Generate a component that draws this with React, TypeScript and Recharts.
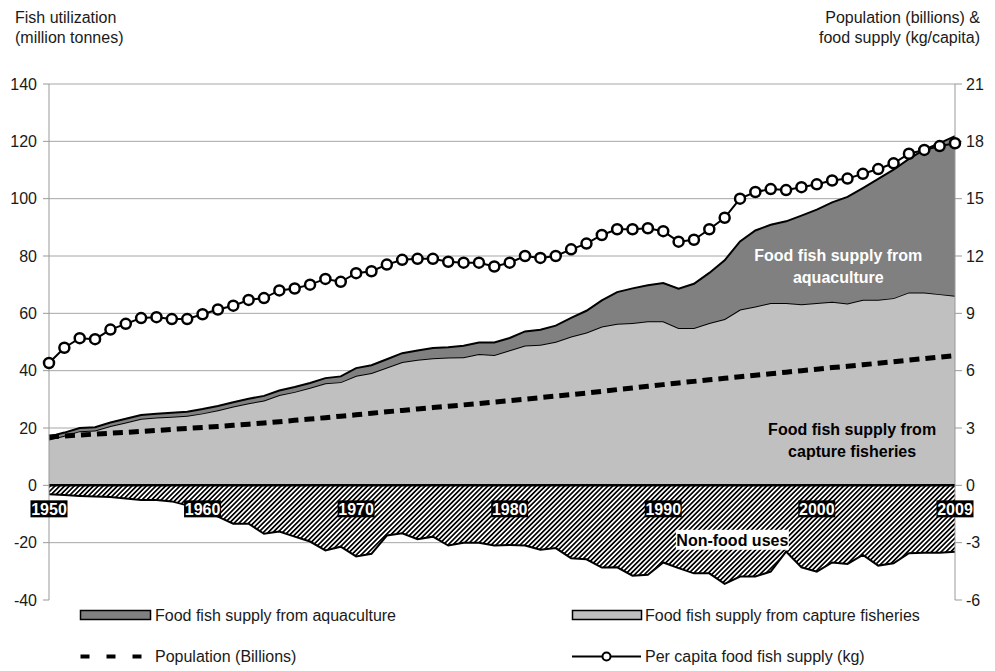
import React from 'react';
import {
  ComposedChart,
  Area,
  Line,
  XAxis,
  YAxis,
  CartesianGrid,
  ReferenceLine,
  ReferenceDot,
  Legend,
} from 'recharts';

const FONT = '"Liberation Sans", Arial, Helvetica, sans-serif';

const years = [
  1950, 1951, 1952, 1953, 1954, 1955, 1956, 1957, 1958, 1959,
  1960, 1961, 1962, 1963, 1964, 1965, 1966, 1967, 1968, 1969,
  1970, 1971, 1972, 1973, 1974, 1975, 1976, 1977, 1978, 1979,
  1980, 1981, 1982, 1983, 1984, 1985, 1986, 1987, 1988, 1989,
  1990, 1991, 1992, 1993, 1994, 1995, 1996, 1997, 1998, 1999,
  2000, 2001, 2002, 2003, 2004, 2005, 2006, 2007, 2008, 2009,
];

// Food fish supply from capture fisheries (million tonnes)
const capture = [
  16.0, 17.3, 18.9, 19.1, 20.7, 21.9, 23.2, 23.7, 23.9, 24.3,
  25.1, 26.2, 27.5, 28.6, 29.6, 31.5, 32.6, 34.0, 35.6, 36.0,
  38.2, 39.2, 41.1, 43.0, 43.8, 44.3, 44.6, 44.7, 45.8, 45.5,
  47.1, 48.8, 49.0, 50.1, 51.9, 53.3, 55.4, 56.4, 56.6, 57.2,
  57.2, 54.9, 54.9, 56.6, 58.0, 61.3, 62.4, 63.6, 63.6, 63.2,
  63.6, 64.0, 63.4, 64.7, 64.7, 65.3, 67.3, 67.3, 66.7, 66.1,
];

// Food fish supply from aquaculture (million tonnes)
const aquaculture = [
  1.0, 1.1, 1.1, 1.2, 1.2, 1.3, 1.3, 1.3, 1.4, 1.4,
  1.5, 1.5, 1.5, 1.6, 1.6, 1.6, 1.7, 1.7, 1.8, 2.0,
  2.7, 2.7, 2.9, 3.1, 3.2, 3.6, 3.6, 4.0, 4.0, 4.3,
  4.3, 4.9, 5.3, 5.6, 6.5, 7.6, 9.1, 11.0, 12.1, 12.6,
  13.4, 13.7, 15.4, 17.5, 20.5, 23.8, 26.5, 27.3, 28.5, 30.9,
  32.6, 34.7, 37.2, 39.0, 42.2, 44.8, 46.6, 49.8, 52.7, 55.7,
];

// Non-food uses (million tonnes, shown as negative)
const nonFood = [
  -3.1, -3.4, -3.7, -3.9, -4.1, -4.6, -5.1, -5.1, -5.6, -7.0,
  -9.1, -10.9, -13.4, -13.4, -16.9, -16.1, -17.9, -19.6, -22.7, -21.4,
  -24.8, -23.9, -17.5, -16.7, -18.8, -17.9, -21.0, -20.0, -20.0, -21.0,
  -20.8, -21.0, -22.5, -21.9, -25.4, -25.8, -28.7, -28.6, -31.5, -31.2,
  -26.9, -28.9, -30.7, -30.7, -34.4, -31.8, -31.8, -30.1, -23.1, -28.6,
  -30.1, -26.9, -27.4, -24.3, -28.0, -27.2, -23.7, -23.5, -23.5, -23.2,
];

// Population (billions)
const population = [
  2.53, 2.58, 2.63, 2.68, 2.73, 2.77, 2.82, 2.87, 2.93, 2.98,
  3.03, 3.08, 3.14, 3.20, 3.26, 3.33, 3.40, 3.47, 3.54, 3.62,
  3.69, 3.77, 3.85, 3.92, 4.00, 4.07, 4.14, 4.21, 4.28, 4.36,
  4.43, 4.51, 4.59, 4.67, 4.75, 4.83, 4.92, 5.01, 5.09, 5.18,
  5.27, 5.36, 5.44, 5.52, 5.60, 5.68, 5.76, 5.84, 5.92, 6.00,
  6.08, 6.16, 6.23, 6.31, 6.39, 6.47, 6.55, 6.63, 6.71, 6.79,
];

// Per capita food fish supply (kg)
const perCapita = [
  6.4, 7.2, 7.7, 7.65, 8.15, 8.45, 8.75, 8.8, 8.7, 8.7,
  8.95, 9.2, 9.4, 9.7, 9.8, 10.2, 10.3, 10.5, 10.8, 10.65,
  11.1, 11.2, 11.55, 11.8, 11.85, 11.85, 11.7, 11.65, 11.65, 11.45,
  11.65, 12.0, 11.9, 12.0, 12.35, 12.65, 13.1, 13.4, 13.4, 13.45,
  13.3, 12.75, 12.85, 13.4, 14.0, 15.0, 15.35, 15.5, 15.45, 15.6,
  15.75, 15.95, 16.05, 16.3, 16.55, 16.85, 17.35, 17.55, 17.75, 17.9,
];

const leftTicks = [-40, -20, 0, 20, 40, 60, 80, 100, 120, 140];
const rightTicks = [-6, -3, 0, 3, 6, 9, 12, 15, 18, 21];
const gridValues = [-20, 0, 20, 40, 60, 80, 100, 120, 140];
const yearTags = [1950, 1960, 1970, 1980, 1990, 2000, 2009];

const data = years.map((year, i) => ({
  year,
  capture: capture[i],
  aquaculture: aquaculture[i],
  nonFood: nonFood[i],
  population: population[i],
  perCapita: perCapita[i],
}));

const YearTag = (props: any) => {
  const { cx, cy, text } = props;
  if (cx == null || cy == null) return null;
  return (
    <g>
      <rect x={cx - 18.5} y={cy - 8.5} width={37} height={17} fill="#000" />
      <text
        x={cx}
        y={cy + 6}
        textAnchor="middle"
        fill="#fff"
        fontWeight="bold"
        fontSize={16}
        fontFamily={FONT}
      >
        {text}
      </text>
    </g>
  );
};

const NonFoodTag = (props: any) => {
  const { cx, cy } = props;
  if (cx == null || cy == null) return null;
  return (
    <g>
      <rect x={cx - 56.5} y={cy - 10} width={113} height={20} fill="#fff" />
      <text
        x={cx}
        y={cy + 6}
        textAnchor="middle"
        fill="#000"
        fontWeight="bold"
        fontSize={16}
        fontFamily={FONT}
      >
        Non-food uses
      </text>
    </g>
  );
};

const TwoLineTag = (props: any) => {
  const { cx, cy, lines, color } = props;
  if (cx == null || cy == null) return null;
  return (
    <text
      textAnchor="middle"
      fill={color}
      fontWeight="bold"
      fontSize={16}
      fontFamily={FONT}
    >
      <tspan x={cx} y={cy - 4.5}>{lines[0]}</tspan>
      <tspan x={cx} y={cy + 17}>{lines[1]}</tspan>
    </text>
  );
};

const renderLegend = () => (
  <svg width={995} height={71} style={{ display: 'block' }}>
    <rect x={80.5} y={10.5} width={70} height={9} fill="#808080" stroke="#000" strokeWidth={1.5} />
    <text x={155} y={20.5} fontSize={16} fontFamily={FONT} fill="#1a1a1a">
      Food fish supply from aquaculture
    </text>
    <rect x={572.5} y={10.5} width={69} height={9} fill="#c0c0c0" stroke="#000" strokeWidth={1.5} />
    <text x={645} y={20.5} fontSize={16} fontFamily={FONT} fill="#1a1a1a">
      Food fish supply from capture fisheries
    </text>
    <line x1={80.5} y1={56.5} x2={144} y2={56.5} stroke="#000" strokeWidth={4} strokeDasharray="9 17" />
    <text x={155} y={62} fontSize={16} fontFamily={FONT} fill="#1a1a1a">
      Population (Billions)
    </text>
    <line x1={572} y1={56.5} x2={641} y2={56.5} stroke="#000" strokeWidth={2} />
    <circle cx={606.5} cy={56.5} r={4} fill="#fff" stroke="#000" strokeWidth={2} />
    <text x={645} y={62} fontSize={16} fontFamily={FONT} fill="#1a1a1a">
      Per capita food fish supply (kg)
    </text>
  </svg>
);

const titleStyle: React.CSSProperties = {
  position: 'absolute',
  fontFamily: FONT,
  fontSize: 16,
  lineHeight: '20.5px',
  color: '#1a1a1a',
  whiteSpace: 'nowrap',
};

export default function App() {
  return (
    <div style={{ position: 'absolute', left: 0, top: 0, width: 995, height: 671, background: '#fff' }}>
      <div style={{ ...titleStyle, left: 15, top: 7.5 }}>
        Fish utilization
        <br />
        (million tonnes)
      </div>
      <div style={{ ...titleStyle, right: 15, top: 7.5, textAlign: 'right' }}>
        Population (billions) &amp;
        <br />
        food supply (kg/capita)
      </div>
      <ComposedChart
        width={995}
        height={671}
        data={data}
        margin={{ top: 84, right: 0, bottom: 0, left: 0 }}
        style={{ fontFamily: FONT }}
      >
        <defs>
          <pattern
            id="hatch"
            patternUnits="userSpaceOnUse"
            width={3.4}
            height={3.4}
            patternTransform="rotate(45)"
          >
            <rect x={0} y={0} width={3.4} height={3.4} fill="#fff" />
            <line x1={1.7} y1={0} x2={1.7} y2={3.4} stroke="#000" strokeWidth={1.7} />
          </pattern>
        </defs>
        <CartesianGrid
          yAxisId="left"
          vertical={false}
          horizontalValues={gridValues}
          stroke="#a6a6a6"
          strokeWidth={1}
        />
        <XAxis dataKey="year" type="number" domain={[1950, 2009]} hide />
        <YAxis
          yAxisId="left"
          orientation="left"
          width={49}
          domain={[-40, 140]}
          ticks={leftTicks}
          interval={0}
          allowDataOverflow
          axisLine={{ stroke: '#999' }}
          tickLine={{ stroke: '#999' }}
          tickSize={6}
          tickMargin={6}
          tick={{ fill: '#1a1a1a', fontSize: 16, fontFamily: FONT }}
        />
        <YAxis
          yAxisId="right"
          orientation="right"
          width={40}
          domain={[-6, 21]}
          ticks={rightTicks}
          interval={0}
          allowDataOverflow
          axisLine={{ stroke: '#999' }}
          tickLine={{ stroke: '#999' }}
          tickSize={7}
          tickMargin={4}
          tick={{ fill: '#1a1a1a', fontSize: 16, fontFamily: FONT }}
        />
        <Area
          yAxisId="left"
          dataKey="nonFood"
          type="linear"
          fill="url(#hatch)"
          fillOpacity={1}
          stroke="#000"
          strokeWidth={2}
          dot={false}
          activeDot={false}
          isAnimationActive={false}
        />
        <Area
          yAxisId="left"
          dataKey="capture"
          stackId="food"
          type="linear"
          fill="#c0c0c0"
          fillOpacity={1}
          stroke="#000"
          strokeWidth={2}
          dot={false}
          activeDot={false}
          isAnimationActive={false}
        />
        <Area
          yAxisId="left"
          dataKey="aquaculture"
          stackId="food"
          type="linear"
          fill="#808080"
          fillOpacity={1}
          stroke="#000"
          strokeWidth={2}
          dot={false}
          activeDot={false}
          isAnimationActive={false}
        />
        <ReferenceLine yAxisId="left" y={0} stroke="#000" strokeWidth={2.5} />
        <Line
          yAxisId="right"
          dataKey="population"
          type="linear"
          stroke="#000"
          strokeWidth={5}
          strokeDasharray="10 6"
          dot={false}
          activeDot={false}
          isAnimationActive={false}
        />
        <Line
          yAxisId="right"
          dataKey="perCapita"
          type="linear"
          stroke="#000"
          strokeWidth={2}
          dot={{ r: 5, fill: '#fff', stroke: '#000', strokeWidth: 2.5 }}
          activeDot={false}
          isAnimationActive={false}
        />
        {yearTags.map((y) => (
          <ReferenceDot
            key={y}
            yAxisId="left"
            x={y}
            y={-8.2}
            shape={(p: any) => <YearTag {...p} text={String(y)} />}
          />
        ))}
        <ReferenceDot
          yAxisId="left"
          x={1994.5}
          y={-19}
          shape={(p: any) => <NonFoodTag {...p} />}
        />
        <ReferenceDot
          yAxisId="left"
          x={2001.4}
          y={76.6}
          shape={(p: any) => (
            <TwoLineTag {...p} color="#fff" lines={['Food fish supply from', 'aquaculture']} />
          )}
        />
        <ReferenceDot
          yAxisId="left"
          x={2002.3}
          y={15.9}
          shape={(p: any) => (
            <TwoLineTag {...p} color="#000" lines={['Food fish supply from', 'capture fisheries']} />
          )}
        />
        <Legend verticalAlign="bottom" content={renderLegend} />
      </ComposedChart>
    </div>
  );
}
